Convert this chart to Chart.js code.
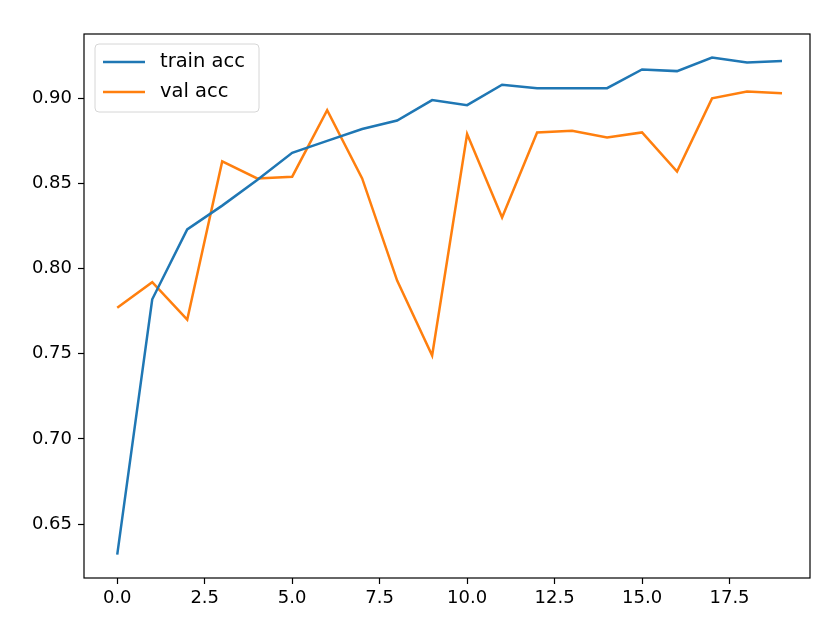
<!DOCTYPE html>
<html>
<head>
<meta charset="utf-8">
<script src="https://cdn.jsdelivr.net/npm/chart.js@4"></script>
<style>
  body { margin: 0; background: #fff; }
  #wrap { width: 815px; height: 622px; }
</style>
</head>
<body>
<div id="wrap"><canvas id="grafico"></canvas></div>
<script>
// dados
const epocas = [0, 1, 2, 3, 4, 5, 6, 7, 8, 9, 10, 11, 12, 13, 14, 15, 16, 17, 18, 19];
const trainAcc = [0.632, 0.782, 0.823, 0.837, 0.852, 0.868, 0.875, 0.882, 0.887, 0.899,
                  0.896, 0.908, 0.906, 0.906, 0.906, 0.917, 0.916, 0.924, 0.921, 0.922];
const valAcc = [0.777, 0.792, 0.770, 0.863, 0.853, 0.854, 0.893, 0.853, 0.793, 0.749,
                0.879, 0.830, 0.880, 0.881, 0.877, 0.880, 0.857, 0.900, 0.904, 0.903];
const xTicks = [0, 2.5, 5, 7.5, 10, 12.5, 15, 17.5];
const yTicks = [0.65, 0.70, 0.75, 0.80, 0.85, 0.90];
const nomes = ['train acc', 'val acc'];
const cores = ['#1f77b4', '#ff7f0e'];

const fonte = { family: '"DejaVu Sans", sans-serif', size: 18 };

// moldura em volta da área do gráfico
const moldura = {
    id: 'moldura',
    afterDatasetsDraw(chart) {
        const { ctx, chartArea: a } = chart;
        ctx.save();
        ctx.strokeStyle = '#000';
        ctx.lineWidth = 1.2;
        ctx.strokeRect(a.left, a.top, a.right - a.left, a.bottom - a.top);
        ctx.restore();
    }
};

// legenda no canto superior esquerdo, dentro da área
const legenda = {
    id: 'legenda',
    afterDraw(chart) {
        const { ctx, chartArea: a } = chart;
        const x = a.left + 11, y = a.top + 10, w = 164, h = 68;
        ctx.save();
        ctx.beginPath();
        ctx.roundRect(x, y, w, h, 4);
        ctx.fillStyle = 'rgba(255,255,255,0.8)';
        ctx.fill();
        ctx.strokeStyle = '#d6d6d6';
        ctx.lineWidth = 1;
        ctx.stroke();
        ctx.font = '19.5px "DejaVu Sans", sans-serif';
        ctx.textBaseline = 'middle';
        chart.data.datasets.forEach((ds, i) => {
            const ly = y + 18 + i * 30;
            ctx.strokeStyle = ds.borderColor;
            ctx.lineWidth = 2.5;
            ctx.beginPath();
            ctx.moveTo(x + 8, ly);
            ctx.lineTo(x + 50, ly);
            ctx.stroke();
            ctx.fillStyle = '#000';
            ctx.fillText(ds.label, x + 65, ly);
        });
        ctx.restore();
    }
};

const ctx = document.getElementById('grafico').getContext('2d');

new Chart(ctx, {
    type: 'line',
    data: {
        labels: epocas,
        datasets: [
            {
                label: nomes[0],
                data: epocas.map((e, i) => ({ x: e, y: trainAcc[i] })),
                borderColor: cores[0],
                borderWidth: 2.5,
                pointRadius: 0,
                tension: 0,
                fill: false
            },
            {
                label: nomes[1],
                data: epocas.map((e, i) => ({ x: e, y: valAcc[i] })),
                borderColor: cores[1],
                borderWidth: 2.5,
                pointRadius: 0,
                tension: 0,
                fill: false
            }
        ]
    },
    options: {
        responsive: true,
        maintainAspectRatio: false,
        animation: false,
        layout: { padding: { left: 0, top: 34, right: 5, bottom: 0 } },
        plugins: {
            legend: { display: false },
            tooltip: { enabled: false }
        },
        scales: {
            x: {
                type: 'linear',
                min: -0.95,
                max: 19.8,
                afterBuildTicks: scale => { scale.ticks = xTicks.map(v => ({ value: v })); },
                afterFit: scale => { scale.height = 44; },
                ticks: {
                    autoSkip: false,
                    maxRotation: 0,
                    color: '#000',
                    font: fonte,
                    padding: 4,
                    callback: v => v.toFixed(1)
                },
                grid: {
                    drawOnChartArea: false,
                    tickLength: 6,
                    tickColor: '#000',
                    tickWidth: 1.2
                },
                border: { display: false }
            },
            y: {
                min: 0.6183,
                max: 0.9378,
                afterBuildTicks: scale => { scale.ticks = yTicks.map(v => ({ value: v })); },
                afterFit: scale => { scale.width = 84; },
                ticks: {
                    autoSkip: false,
                    color: '#000',
                    font: fonte,
                    padding: 6,
                    callback: v => v.toFixed(2)
                },
                grid: {
                    drawOnChartArea: false,
                    tickLength: 6,
                    tickColor: '#000',
                    tickWidth: 1.2
                },
                border: { display: false }
            }
        }
    },
    plugins: [moldura, legenda]
});
</script>
</body>
</html>
